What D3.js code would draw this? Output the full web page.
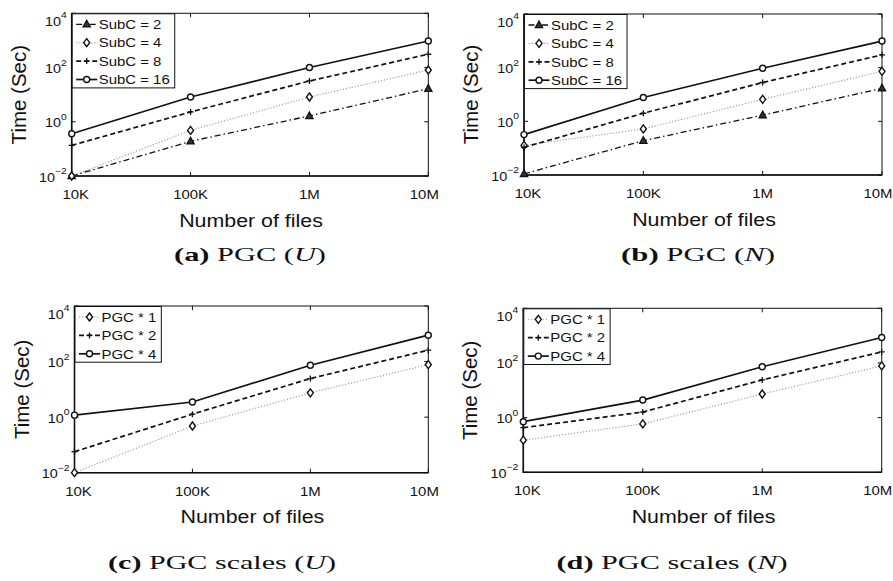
<!DOCTYPE html>
<html>
<head>
<meta charset="utf-8">
<script src="https://cdn.jsdelivr.net/npm/d3@7"></script>
<style>
  html, body { margin: 0; padding: 0; background: #fff; }
  svg { display: block; }
  text { font-family: "Liberation Sans", Arial, Helvetica, sans-serif; fill: #111; }
  .cap { font-family: "Liberation Serif", "Times New Roman", serif; }
</style>
</head>
<body>
<svg id="fig" width="893" height="581"></svg>
<script>
// Number of files on the x axis and their tick labels
const fileCounts = [1e4, 1e5, 1e6, 1e7];
const fileLabels = ["10K", "100K", "1M", "10M"];
const timeTicks = [1e-2, 1, 1e2, 1e4];
const timeTickExp = ["−2", "0", "2", "4"];

// (a) PGC, uniform distribution — time in seconds per sub-cluster count
const subc2U  = [0.01, 0.19, 1.64, 16.6];
const subc4U  = [0.01, 0.48, 8.2, 81];
const subc8U  = [0.135, 2.3, 32, 309];
const subc16U = [0.36, 8.2, 100, 955];

// (b) PGC, normal distribution
const subc2N  = [0.011, 0.19, 1.7, 17];
const subc4N  = [0.127, 0.52, 6.6, 73];
const subc8N  = [0.107, 2.0, 28, 300];
const subc16N = [0.32, 7.7, 95, 980];

// (c) PGC scales, uniform distribution
const pgc1U = [0.01, 0.48, 7.5, 78];
const pgc2U = [0.057, 1.28, 24.5, 258];
const pgc4U = [1.18, 3.5, 74, 890];

// (d) PGC scales, normal distribution
const pgc1N = [0.15, 0.59, 7.3, 78];
const pgc2N = [0.43, 1.6, 24, 254];
const pgc4N = [0.71, 4.4, 73, 855];

const subcNames = ["SubC = 2", "SubC = 4", "SubC = 8", "SubC = 16"];
const pgcNames = ["PGC * 1", "PGC * 2", "PGC * 4"];

// line style per series kind
const styles = {
  dashdot: { dash: "6,3,1.5,3", width: 1.3, color: "#111", marker: "triangle" },
  dotted:  { dash: "1.2,1.8", width: 1.1, color: "#999", marker: "diamond" },
  dashed:  { dash: "5,3", width: 1.7, color: "#111", marker: "plus" },
  solid:   { dash: null, width: 1.7, color: "#111", marker: "circle" }
};

const panels = [
  { box: [71.7, 13.3, 428.3, 176], names: subcNames,
    series: [subc2U, subc4U, subc8U, subc16U],
    kinds: ["dashdot", "dotted", "dashed", "solid"],
    cap: ["(a)", " PGC (", "U", ")"], capX: 250, capY: 261, capW: 152 },
  { box: [524, 14, 882, 175], names: subcNames,
    series: [subc2N, subc4N, subc8N, subc16N],
    kinds: ["dashdot", "dotted", "dashed", "solid"],
    cap: ["(b)", " PGC (", "N", ")"], capX: 698, capY: 261, capW: 154 },
  { box: [74.5, 306, 428.3, 472.7], names: pgcNames,
    series: [pgc1U, pgc2U, pgc4U],
    kinds: ["dotted", "dashed", "solid"],
    cap: ["(c)", " PGC scales (", "U", ")"], capX: 222, capY: 569, capW: 228 },
  { box: [523.3, 308.3, 881.7, 472.3], names: pgcNames,
    series: [pgc1N, pgc2N, pgc4N],
    kinds: ["dotted", "dashed", "solid"],
    cap: ["(d)", " PGC scales (", "N", ")"], capX: 672, capY: 569, capW: 231 }
];

const svg = d3.select("#fig");
const SX = 1.15; // horizontal widening of sans-serif labels

function drawMarker(g, type, x, y) {
  const s = g.append("g").attr("transform", `translate(${x},${y})`);
  if (type === "triangle") {
    s.append("path").attr("d", "M0,-4L3.6,2.6L-3.6,2.6Z")
      .attr("fill", "#333").attr("stroke", "#111").attr("stroke-width", 1.3);
  } else if (type === "diamond") {
    s.append("path").attr("d", "M0,-4L3,0L0,4L-3,0Z")
      .attr("fill", "#fff").attr("stroke", "#111").attr("stroke-width", 1.4);
  } else if (type === "plus") {
    s.append("path").attr("d", "M-3,0H3M0,-3V3")
      .attr("fill", "none").attr("stroke", "#111").attr("stroke-width", 1.3);
  } else {
    s.append("circle").attr("r", 3)
      .attr("fill", "#fff").attr("stroke", "#111").attr("stroke-width", 1.4);
  }
}

function drawPanel(p) {
  const [x0, y0, x1, y1] = p.box;
  const g = svg.append("g");
  const x = d3.scaleLog().domain([1e4, 1e7]).range([x0, x1]);
  const y = d3.scaleLog().domain([1e-2, 1e4]).range([y1, y0]);

  // axes frame
  g.append("rect").attr("x", x0).attr("y", y0).attr("width", x1 - x0).attr("height", y1 - y0)
    .attr("fill", "#fff").attr("stroke", "#111").attr("stroke-width", 1);
  g.append("path").attr("d", `M${x0},${y0}V${y1}H${x1}`)
    .attr("fill", "none").attr("stroke", "#111").attr("stroke-width", 1.6);

  // inward ticks on all four sides
  const tk = 4;
  fileCounts.forEach(v => {
    const px = x(v);
    g.append("path").attr("d", `M${px},${y1}v${-tk}M${px},${y0}v${tk}`)
      .attr("stroke", "#111").attr("stroke-width", 1);
  });
  timeTicks.forEach(v => {
    const py = y(v);
    g.append("path").attr("d", `M${x0},${py}h${tk}M${x1},${py}h${-tk}`)
      .attr("stroke", "#111").attr("stroke-width", 1);
  });

  // x tick labels, end labels pulled slightly inward
  fileCounts.forEach((v, i) => {
    const cx = Math.min(Math.max(x(v), x0 + 4), x1 - 4);
    g.append("text").attr("transform", `translate(${cx},${y1 + 23}) scale(${SX},1)`)
      .attr("text-anchor", "middle").attr("font-size", 13).text(fileLabels[i]);
  });

  // y tick labels: 10 with exponent; the top one is kept inside the frame height
  timeTicks.forEach((v, i) => {
    const base = Math.max(y(v) + 5.5, y0 + 12.5);
    const t = g.append("text").attr("transform", `translate(${x0 - 5},${base}) scale(${SX},1)`)
      .attr("text-anchor", "end").attr("font-size", 12.5);
    t.append("tspan").text("10");
    t.append("tspan").attr("font-size", 9).attr("dy", -7.5).text(timeTickExp[i]);
  });

  // axis titles
  g.append("text").attr("transform", `translate(${x0 - 46},${(y0 + y1) / 2}) rotate(-90)`)
    .attr("text-anchor", "middle").attr("font-size", 20.5).text("Time (Sec)");
  g.append("text").attr("transform", `translate(${(x0 + x1) / 2 + 1},${y1 + 50.5}) scale(${SX},1)`)
    .attr("text-anchor", "middle").attr("font-size", 18.6).text("Number of files");

  // series lines and markers
  p.series.forEach((vals, si) => {
    const st = styles[p.kinds[si]];
    const pts = vals.map((v, i) => [x(fileCounts[i]), y(v)]);
    g.append("path").attr("d", d3.line()(pts))
      .attr("fill", "none").attr("stroke", st.color).attr("stroke-width", st.width)
      .attr("stroke-dasharray", st.dash);
    pts.forEach(([px, py]) => drawMarker(g, st.marker, px, py));
  });

  // legend
  const lg = g.append("g");
  const lx = x0 + 0.5, ly = y0 + 0.5, rowH = 18.4;
  const box = lg.append("rect").attr("x", lx).attr("y", ly)
    .attr("height", p.names.length * rowH + 0.5)
    .attr("fill", "#fff").attr("stroke", "#111").attr("stroke-width", 1);
  let maxW = 0;
  p.names.forEach((nm, i) => {
    const st = styles[p.kinds[i]];
    const ry = ly + 10.5 + i * rowH;
    lg.append("path").attr("d", `M${lx + 4},${ry}H${lx + 25}`)
      .attr("fill", "none").attr("stroke", st.color).attr("stroke-width", st.width)
      .attr("stroke-dasharray", st.dash);
    drawMarker(lg, st.marker, lx + 14.5, ry);
    const t = lg.append("text").attr("transform", `translate(${lx + 26.5},${ry + 4.7}) scale(${SX},1)`)
      .attr("font-size", 13).text(nm);
    maxW = Math.max(maxW, t.node().getComputedTextLength() * SX);
  });
  box.attr("width", 26.5 + maxW + 5);

  // subfigure caption
  const c = g.append("text").attr("class", "cap")
    .attr("text-anchor", "middle").attr("font-size", 19)
    .attr("transform", `translate(${p.capX},${p.capY})`);
  c.append("tspan").attr("font-weight", "bold").text(p.cap[0]);
  c.append("tspan").text(p.cap[1]);
  c.append("tspan").attr("font-style", "italic").text(p.cap[2]);
  c.append("tspan").text(p.cap[3]);
  const w = c.node().getComputedTextLength();
  c.attr("transform", `translate(${p.capX},${p.capY}) scale(${p.capW / w},1)`);
}

panels.forEach(drawPanel);
</script>
</body>
</html>
